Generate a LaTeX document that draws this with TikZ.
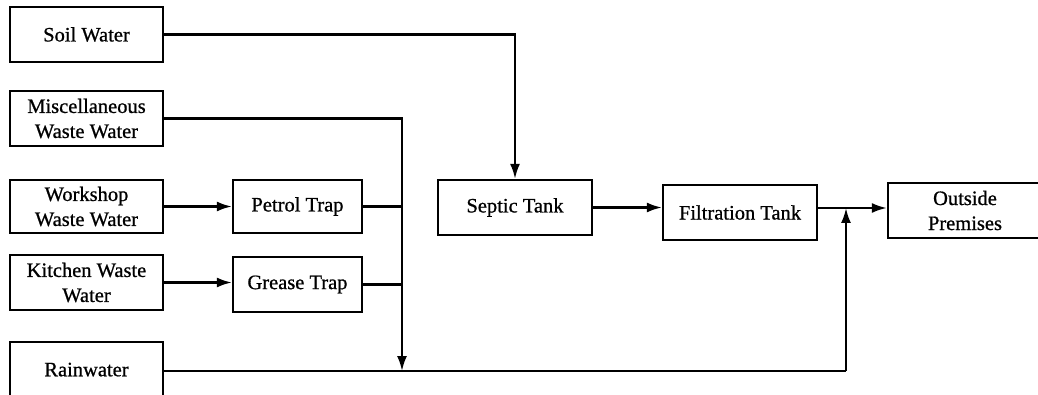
\documentclass[tikz,border=0pt]{standalone}
\usepackage{fontspec}
\setmainfont{Liberation Serif}
\newfontfamily\heavyfont[FakeBold=0.8]{Liberation Serif}
\usetikzlibrary{arrows.meta}
\begin{document}
\begin{tikzpicture}[x=1pt,y=-1pt,
  box/.style={draw, line width=2.3pt, rectangle, inner sep=0pt, align=center,
    font=\heavyfont\fontsize{20.5}{25}\selectfont},
  flow/.style={line width=2.2pt},
  arr/.style={flow, -{Latex[length=15pt,width=10pt]}}]
\useasboundingbox (0,0) rectangle (1038,395);
\clip (0,0) rectangle (1038,395);
% left column
\node[box, minimum width=153pt, minimum height=55pt] (soil) at (86.5,34.5) {Soil Water};
\node[box, minimum width=153pt, minimum height=55pt] (misc) at (86.5,118.5) {Miscellaneous\\Waste Water};
\node[box, minimum width=153pt, minimum height=53pt] (work) at (86.5,206.5) {Workshop\\Waste Water};
\node[box, minimum width=153pt, minimum height=55pt] (kitch) at (86.5,282.5) {Kitchen Waste\\Water};
\node[box, minimum width=153pt, minimum height=60pt] (rain) at (86.5,372) {\raisebox{5pt}{Rainwater}};
% traps
\node[box, minimum width=129pt, minimum height=53pt] (petrol) at (297.5,206.5) {Petrol Trap};
\node[box, minimum width=129pt, minimum height=55pt] (grease) at (297.5,284.5) {Grease Trap};
% tanks
\node[box, minimum width=154pt, minimum height=55pt] (septic) at (515,207.5) {Septic Tank};
\node[box, minimum width=154pt, minimum height=55pt] (filt) at (740,212.5) {Filtration Tank};
\node[box, minimum width=154pt, minimum height=55pt] (out) at (965,210.5) {Outside\\Premises};
% junctions
\coordinate (jv) at (402,371);
\coordinate (jr) at (846,208);
% connectors
\draw[arr] (soil.east) -- (soil.east -| septic.north) -- (septic.north);
\draw[arr] (misc.east) -- (misc.east -| jv) -- (jv);
\draw[arr] (work.east) -- (petrol.west);
\draw[arr] (kitch.east) -- (kitch.east -| grease.west);
\draw[flow] (petrol.east) -- (petrol.east -| jv);
\draw[flow] (grease.east) -- (grease.east -| jv);
\draw[flow] (rain.east |- jv) -- (jv) -- (jv -| jr);
\draw[arr] (jv -| jr) -- (jr);
\draw[arr] (septic.east) -- (septic.east -| filt.west);
\draw[arr] (filt.east |- jr) -- (jr -| out.west);
\end{tikzpicture}
\end{document}
